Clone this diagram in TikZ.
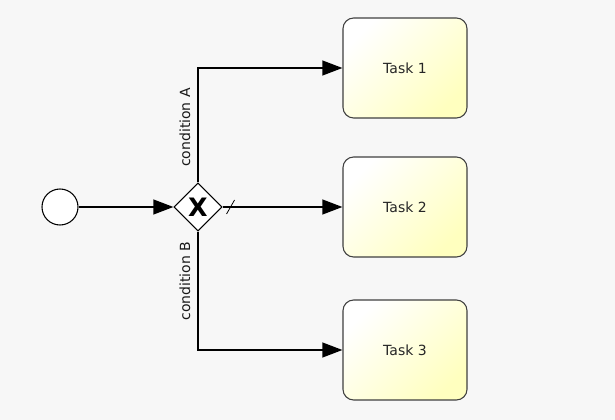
\documentclass[tikz,border=0pt]{standalone}
\usepackage{fontspec}
\setmainfont{DejaVu Sans}
\usepackage{tikz}
\usetikzlibrary{arrows.meta,shapes,calc,positioning}

\begin{document}
\begin{tikzpicture}[x=0.75pt,y=0.75pt,line width=1.5pt,
    ->,>={Triangle[length=15pt,width=11pt]}]
    \tikzstyle{start}=[circle, minimum size=27pt, inner sep=0pt, draw, fill=white, line width=0.8pt]
    \tikzstyle{gate}=[diamond, minimum size=36pt, inner sep=0pt, draw, fill=white, line width=0.8pt]
    \tikzstyle{task}=[rectangle, rounded corners=8pt, minimum width=93pt, minimum height=75pt,
      draw=black!75, line width=0.8pt, top color=white, bottom color=yellow!25, shading angle=45,
      text=black!85, font=\fontsize{10.5}{12}\selectfont]
    \tikzstyle{cond}=[rotate=90, anchor=south, inner sep=5pt, font=\fontsize{10.5}{12}\selectfont, text=black!90]

    % background and bounding box
    \fill[black!3] (0,0) rectangle (615,-420);
    \useasboundingbox (0,0) rectangle (615,-420);

    \node[start]   (s)  at (60,-207)  {};
    \node[gate]    (g)  at (198,-207) {\fontsize{19}{19}\selectfont\bfseries X};
    \node[task]    (t1) at (405,-68)  {Task 1};
    \node[task]    (t2) at (405,-207) {Task 2};
    \node[task]    (t3) at (405,-350) {Task 3};

    \draw (s) -- (g);
    \draw (g.north) |- node[cond, pos=0.24] {condition A} (t1);
    \draw (g.east) -- (t2);
    \draw (g.south) |- node[cond, pos=0.21] {condition B} (t3);

    % default flow marker
    \draw[-, line width=0.6pt] ($(g.east)+(4,-7)$) -- ++(8,14);
\end{tikzpicture}
\end{document}
